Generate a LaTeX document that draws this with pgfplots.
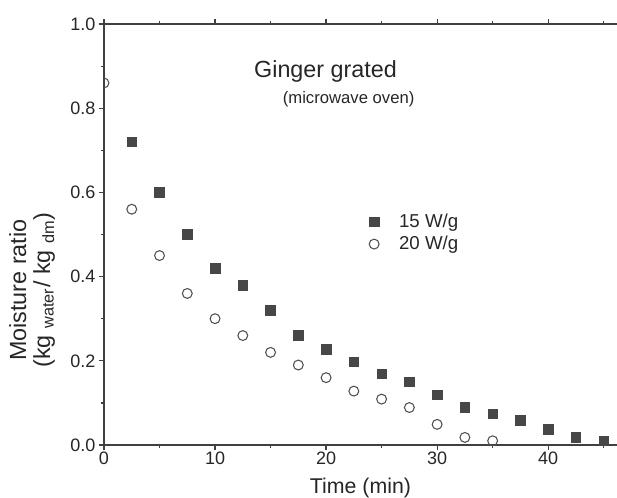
\documentclass[border=0pt]{standalone}
\usepackage{fontspec}
\setmainfont{Liberation Sans}
\usepackage{pgfplots}
\pgfplotsset{compat=1.18}
\definecolor{sq}{HTML}{474747}
\definecolor{ci}{HTML}{505050}
\begin{document}
\begin{tikzpicture}
\begin{axis}[
  scale only axis,
  width=384.75pt, height=315.75pt,
  xmin=0, xmax=46.2, ymin=0, ymax=1.0,
  clip marker paths=true,
  axis x line*=box, axis y line*=left,
  axis line style={line width=1pt, color=black!75},
  tick align=outside,
  major tick length=4pt, minor tick length=2.5pt,
  tick style={line width=0.9pt, color=black!75},
  xtick={0,10,20,30,40}, minor xtick={5,15,25,35,45},
  ytick={0,0.2,0.4,0.6,0.8,1.0}, minor ytick={0.1,0.3,0.5,0.7,0.9},
  yticklabel style={/pgf/number format/fixed, /pgf/number format/fixed zerofill, /pgf/number format/precision=1},
  /pgf/number format/assume math mode=true,
  ticklabel style={font=\fontsize{13.5}{15}\selectfont, color=black!85},
  xticklabel style={yshift=2pt},
  yticklabel style={xshift=1pt},
  xlabel={Time (min)},
  xlabel style={font=\fontsize{16}{18}\selectfont, color=black!85, yshift=-3pt},
  ylabel={\begin{tabular}{c}Moisture ratio\\(kg $_{\mathrm{water}}$/ kg $_{\mathrm{dm}}$)\end{tabular}},
  ylabel style={font=\fontsize{17.5}{18}\selectfont, color=black!85, at={(axis description cs:-0.138,0.368)}, anchor=center},
  legend style={at={(axis cs:23.5,0.5036)}, anchor=west, draw=none, fill=none,
    font=\fontsize{14}{16}\selectfont, row sep=1pt, text=black!85,
    /tikz/every odd column/.append style={column sep=13pt}},
  legend cell align=left,
]
\addplot[only marks, mark=square*, mark size=3.6pt, color=sq, fill=sq] coordinates {
(2.5,0.72) (5,0.60) (7.5,0.50) (10,0.42) (12.5,0.38) (15,0.32) (17.5,0.26)
(20,0.228) (22.5,0.198) (25,0.169) (27.5,0.15) (30,0.119) (32.5,0.089)
(35,0.074) (37.5,0.059) (40,0.038) (42.5,0.018) (45,0.01)
};
\addlegendentry{15 W/g}
\addplot[only marks, mark=o, mark size=3.7pt, color=ci, line width=0.8pt] coordinates {
(0,0.86) (2.5,0.56) (5,0.45) (7.5,0.36) (10,0.30) (12.5,0.26) (15,0.22)
(17.5,0.19) (20,0.16) (22.5,0.128) (25,0.109) (27.5,0.089) (30,0.049)
(32.5,0.018) (35,0.01)
};
\addlegendentry{20 W/g}
\node[anchor=base, font=\fontsize{17.5}{20}\selectfont, text=black!85] at (axis cs:19.95,0.874) {Ginger grated};
\node[anchor=base, font=\fontsize{12.5}{14}\selectfont, text=black!85] at (axis cs:22.03,0.81) {(microwave oven)};
\end{axis}
\pgfresetboundingbox
\path ([xshift=-78pt,yshift=-39pt]current axis.south west) rectangle ([yshift=18pt]current axis.north east);
\end{tikzpicture}
\end{document}
